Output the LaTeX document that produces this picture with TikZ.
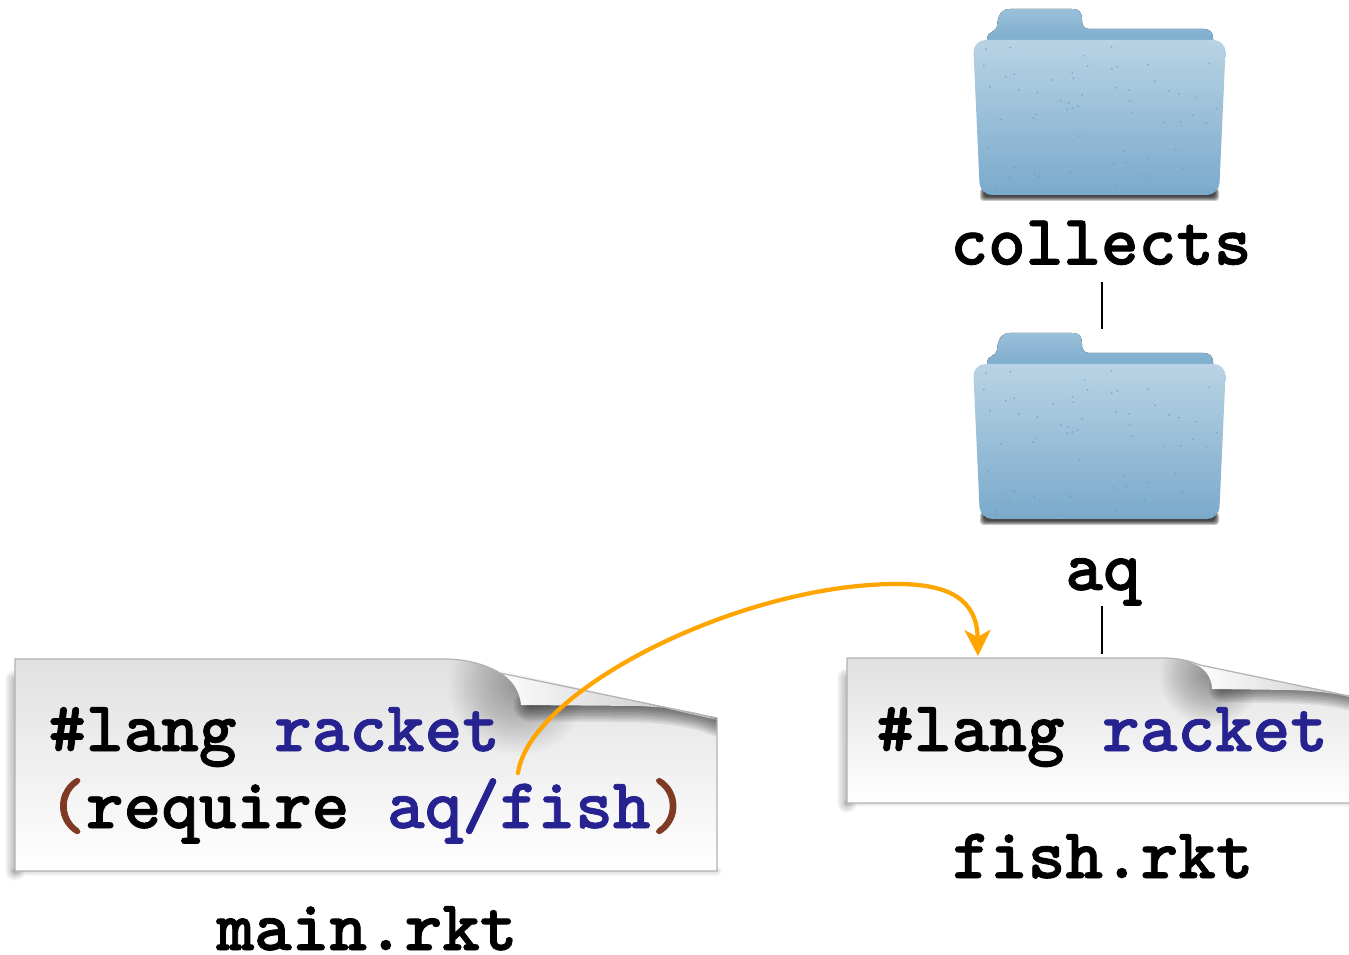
\documentclass[tikz,border=0pt]{standalone}
\usepackage{fontspec}
\setmonofont{Latin Modern Mono Light}[BoldFeatures={FakeBold=1.1}]
\usepackage{tikz}
\usetikzlibrary{arrows.meta}
\usetikzlibrary{positioning}
\definecolor{keyblue}{HTML}{262390}
\definecolor{parenbrown}{HTML}{7E3A25}
\definecolor{reforange}{HTML}{FFA500}
\definecolor{folderblue}{HTML}{8FB9D6}
\definecolor{folderlight}{HTML}{B9D3E4}
\definecolor{foldermid}{HTML}{A3C5DC}
\definecolor{folderdark}{HTML}{7AAACB}
\definecolor{folderspeck}{HTML}{5F9CC5}
\tikzset{
	codetext/.style={anchor=base west, inner sep=0pt, font=\ttfamily\bfseries\fontsize{40.8}{44}\selectfont},
	filelabel/.style={anchor=base, inner sep=0pt, font=\ttfamily\bfseries\fontsize{40.8}{44}\selectfont},
	pagebox/.style={draw=none, inner sep=0pt, outer sep=0pt},
	folderbox/.style={draw=none, inner sep=0pt, outer sep=0pt, minimum width=253*0.02cm, minimum height=192*0.02cm},
	link/.style={draw=black, line width=1.5pt},
	reflink/.style={draw=reforange, line width=.085cm, line cap=round, -{Stealth[length=.52cm,width=.52cm,inset=.14cm]}},
	pageedge/.style={draw=black!30, line width=.7pt},
	curlshadow/.style={fill=black, opacity=.016},
	bandshadow/.style={draw=black, opacity=.06, line cap=round},
	edgeshadow/.style={draw=black, opacity=.028, line cap=round},
	foldericon/.pic={
		% shadow under the front leaf
		\foreach \d/\e in {0/6,1/5,2/4,3/3,4/2} {
			\fill[black, opacity=.22, rounded corners=2pt] (980+\d,188) rectangle (1219-\d,195+\e);
		}
		% back leaf and tab
		\fill[top color=folderblue!90!white, bottom color=folderdark]
			(987,44) -- (987,38) .. controls (987,32) and (995,33) .. (997,26)
			.. controls (998,15) and (1001,9) .. (1010,9) -- (1072,9)
			.. controls (1080,9) and (1082,13) .. (1082,20)
			.. controls (1082,27) and (1085,29) .. (1090,29) -- (1204,29)
			.. controls (1210,29) and (1213,33) .. (1213,38) -- (1213,44) -- cycle;
		% front leaf
		\shade[top color=folderlight, middle color=foldermid, bottom color=folderdark, rounded corners=7pt]
			(973,40) -- (1226,40) -- (1219,195) -- (980,195) -- cycle;
		% speckles
		\pgfmathsetseed{42}
		\foreach \speck in {1,...,60} {
			\pgfmathsetmacro{\speckx}{980+rnd*238}
			\pgfmathsetmacro{\specky}{44+rnd*148}
			\fill[folderspeck, opacity=.7] (\speckx,\specky) circle (.55pt);
		}
	},
}
\begin{document}
\begin{tikzpicture}[x=0.02cm, y=-0.02cm]
	\useasboundingbox (0,0) rectangle (1349,955);
	% folders
	\pic at (0,0) {foldericon};
	\pic at (0,324) {foldericon};
	\node[folderbox] (aqfolder) at (1102,429) {};
	\node[filelabel] (collects) at (1101,264.5) {collects};
	\node[filelabel] (aq) at (1103,590) {aq};
	%
	% main.rkt page
	\foreach \w in {2,4,...,20} {
		\draw[edgeshadow, line width=\w*0.02cm] (15,680) -- (15,871);
	}
	\foreach \w in {2,4,...,10} {
		\draw[edgeshadow, line width=\w*0.02cm] (15,871) -- (717,871);
	}
	\shade[top color=black!12, middle color=black!1, bottom color=white]
		(15,659) -- (444,659) .. controls (465,659) and (485,664) .. (500,673) -- (717,718) -- (717,871) -- (15,871) -- cycle;
	\begin{scope}
		\clip (15,659) -- (444,659) .. controls (465,659) and (485,664) .. (500,673) -- (717,718) -- (717,871) -- (15,871) -- cycle;
		\foreach \r in {3,6,...,69} {
			\fill[curlshadow] (518,686) circle (\r*0.02cm);
		}
		\foreach \w in {3,6,...,33} {
			\draw[bandshadow, line width=\w*0.02cm] (530,705) -- (640,706) .. controls (675,708) and (700,712) .. (717,720);
		}
	\end{scope}
	\shade[left color=white, right color=black!25]
		(491,668) .. controls (510,675) and (520,690) .. (521,705) -- (640,706) .. controls (675,708) and (700,712) .. (717,720) -- cycle;
	\draw[pageedge] (717,718) -- (717,871) -- (15,871) -- (15,659) -- (444,659)
		.. controls (465,659) and (485,664) .. (500,673) -- (717,718);
	\node[pagebox, minimum width=702*0.02cm, minimum height=212*0.02cm] (mainpage) at (366,765) {};
	%
	% fish.rkt page
	\foreach \w in {2,4,...,20} {
		\draw[edgeshadow, line width=\w*0.02cm] (847,678) -- (847,803);
	}
	\foreach \w in {2,4,...,8} {
		\draw[edgeshadow, line width=\w*0.02cm] (847,803) -- (1349,803);
	}
	\shade[top color=black!12, middle color=black!1, bottom color=white]
		(847,658) -- (1163,658) .. controls (1178,658) and (1190,661) .. (1200,665) -- (1349,696) -- (1349,803) -- (847,803) -- cycle;
	\begin{scope}
		\clip (847,658) -- (1163,658) .. controls (1178,658) and (1190,661) .. (1200,665) -- (1349,696) -- (1349,803) -- (847,803) -- cycle;
		\foreach \r in {2,4,...,50} {
			\fill[curlshadow] (1210,676) circle (\r*0.02cm);
		}
		\foreach \w in {3,6,...,27} {
			\draw[bandshadow, line width=\w*0.02cm] (1222,689) -- (1290,690) .. controls (1315,691) and (1335,693) .. (1349,697);
		}
	\end{scope}
	\shade[left color=white, right color=black!20]
		(1192,663) .. controls (1205,667) and (1212,678) .. (1212,689) -- (1290,690) .. controls (1315,691) and (1335,693) .. (1349,697) -- (1349,696) -- cycle;
	\draw[pageedge] (1349,803) -- (847,803) -- (847,658) -- (1163,658)
		.. controls (1178,658) and (1190,661) .. (1200,665) -- (1349,696);
	\node[pagebox, minimum width=502*0.02cm, minimum height=145*0.02cm] (fishpage) at (1098,730.5) {};
	%
	% code
	\node[codetext] (mainlang) at (48,751) {\#lang \textcolor{keyblue}{racket}};
	\node[codetext] (mainreq) at (48,828) {\textcolor{parenbrown}{(}require \textcolor{keyblue}{aq/fish}\textcolor{parenbrown}{)}};
	\node[codetext] (fishlang) at (876,751) {\#lang \textcolor{keyblue}{racket}};
	\node[filelabel] (mainname) at (367,950) {main.rkt};
	\node[filelabel] (fishname) at (1103,878) {fish.rkt};
	%
	\draw[link, shorten <=.34cm, shorten >=.08cm] (collects.south -| aqfolder.north) -- (aqfolder.north);
	\draw[link, shorten >=.08cm] (aqfolder.north |- aq.south) -- (aqfolder.north |- fishpage.north);
	%
	\coordinate (fishref) at (518,773);
	\coordinate (fishtop) at (978,656);
	\draw[reflink] (fishref) .. controls (530,690) and (740,584) .. (897,584)
		.. controls (950,584) and (977,600) .. (fishtop);
\end{tikzpicture}
\end{document}
